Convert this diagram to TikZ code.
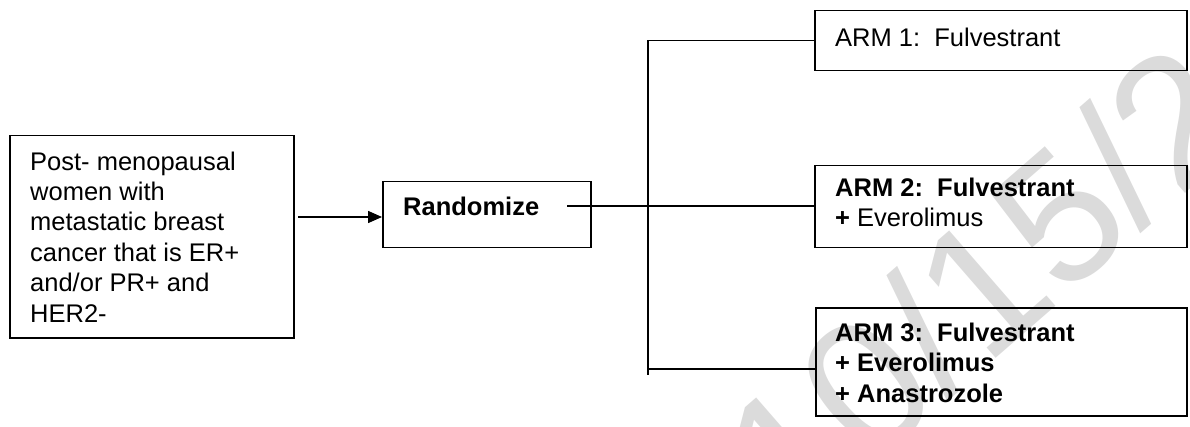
\documentclass[tikz,border=0pt]{standalone}
\usepackage{fontspec}
\setmainfont{Liberation Sans}
\usetikzlibrary{arrows.meta,calc}
\newcommand{\fs}{\fontsize{25.5pt}{30.4pt}\selectfont}
\newcommand{\fst}{\rule{0pt}{20pt}}
\begin{document}
\begin{tikzpicture}[x=1pt,y=-1pt,
  box/.style={draw, line width=1.5pt, anchor=north west, inner sep=0pt},
  txt/.style={anchor=north west, inner sep=0pt, align=left, font=\fs},
  conn/.style={line width=1.5pt}]
\useasboundingbox (0,0) rectangle (1190,427);
% watermark
\begin{scope}
\clip (0,0) rectangle (1190,427);
\node[rotate=41, text=black!14, font=\fontsize{184pt}{184pt}\selectfont, anchor=base west, inner sep=0pt] (wm) at (792,535) {10/15/2014};
\end{scope}
% boxes
\node[box, minimum width=284pt, minimum height=202pt] (pop) at (9,135) {};
\node[txt] (popt) at (30,150) {\fst Post- menopausal\\women with\\metastatic breast\\cancer that is ER+\\and/or PR+ and\\HER2-};
\node[box, minimum width=208pt, minimum height=66pt] (rnd) at (382,181) {};
\node[txt, font=\fs\bfseries] (rndt) at (403,195) {\fst Randomize};
\node[box, minimum width=372pt, minimum height=60pt] (arm1) at (814,10) {};
\node[txt] (arm1t) at (835,26) {\fst ARM 1:\ \ Fulvestrant};
\node[box, minimum width=372pt, minimum height=82pt] (arm2) at (814,165) {};
\node[txt] (arm2t) at (835,176) {\fst\textbf{ARM 2:\ \ Fulvestrant}\\\textbf{+} Everolimus};
\node[box, minimum width=371pt, minimum height=108pt] (arm3) at (815,307) {};
\node[txt, font=\fs\bfseries] (arm3t) at (835,321) {\fst ARM 3:\ \ Fulvestrant\\+ Everolimus\\+ Anastrozole};
% connectors
\coordinate (a0) at (298,217);
\draw[conn, -{Triangle[length=14pt,width=12pt]}] (a0) -- (rnd.west |- a0);
\coordinate (rs) at (567,206);
\draw[conn] (rs) -- (arm2.west |- rs);
\coordinate (bb) at (648,375);
\draw[conn] (arm1.west) -| (bb);
\coordinate (c3) at (648,369);
\draw[conn] (c3) -- (arm3.west |- c3);
\end{tikzpicture}
\end{document}
